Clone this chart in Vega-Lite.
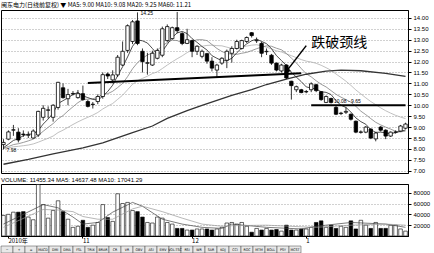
{
"$schema":"https://vega.github.io/schema/vega-lite/v6.json",
"padding":{"left":0,"top":1,"right":0,"bottom":0},
"background":"white",
"spacing":1,
"config":{"font":"Liberation Sans","view":{"stroke":"black","strokeWidth":1},"axis":{"labelFont":"Liberation Sans","labelFontSize":6,"labelColor":"black","tickColor":"black","domainColor":"black"}},
"resolve":{"scale":{"x":"independent","y":"independent"}},
"datasets":{
"k":[
{"d":"2010-10-08","o":8.20,"h":8.45,"l":7.98,"c":8.30,"v":38000,"m5":8.06,"m10":8.03,"m20":8.02},
{"d":"2010-10-11","o":8.45,"h":8.85,"l":8.40,"c":8.78,"v":40000,"m5":8.22,"m10":8.11,"m20":8.05},
{"d":"2010-10-12","o":8.86,"h":9.10,"l":8.60,"c":8.88,"v":44000,"m5":8.39,"m10":8.20,"m20":8.10},
{"d":"2010-10-13","o":8.77,"h":8.95,"l":8.30,"c":8.41,"v":44000,"m5":8.47,"m10":8.24,"m20":8.12},
{"d":"2010-10-14","o":8.68,"h":8.85,"l":8.55,"c":8.66,"v":45000,"m5":8.61,"m10":8.30,"m20":8.15},
{"d":"2010-10-15","o":8.63,"h":8.80,"l":8.50,"c":8.65,"v":35000,"m5":8.68,"m10":8.37,"m20":8.18},
{"d":"2010-10-18","o":8.50,"h":8.90,"l":8.48,"c":8.82,"v":30000,"m5":8.68,"m10":8.45,"m20":8.23},
{"d":"2010-10-19","o":8.64,"h":9.75,"l":8.55,"c":9.72,"v":95000,"m5":8.85,"m10":8.62,"m20":8.31},
{"d":"2010-10-20","o":9.45,"h":10.00,"l":9.30,"c":9.86,"v":58000,"m5":9.14,"m10":8.81,"m20":8.40},
{"d":"2010-10-21","o":9.77,"h":9.95,"l":9.40,"c":9.79,"v":33000,"m5":9.37,"m10":8.99,"m20":8.49},
{"d":"2010-10-22","o":9.45,"h":10.05,"l":9.25,"c":10.00,"v":47000,"m5":9.64,"m10":9.16,"m20":8.59},
{"d":"2010-10-25","o":9.90,"h":11.07,"l":9.80,"c":11.05,"v":65000,"m5":10.08,"m10":9.38,"m20":8.75},
{"d":"2010-10-26","o":10.80,"h":11.00,"l":10.30,"c":10.35,"v":45000,"m5":10.21,"m10":9.53,"m20":8.86},
{"d":"2010-10-27","o":10.30,"h":10.75,"l":10.00,"c":10.49,"v":31000,"m5":10.34,"m10":9.74,"m20":8.99},
{"d":"2010-10-28","o":10.52,"h":10.65,"l":10.45,"c":10.54,"v":16000,"m5":10.49,"m10":9.93,"m20":9.12},
{"d":"2010-10-29","o":10.35,"h":10.70,"l":10.30,"c":10.53,"v":18000,"m5":10.59,"m10":10.12,"m20":9.24},
{"d":"2010-11-01","o":10.53,"h":10.90,"l":10.20,"c":10.26,"v":29000,"m5":10.43,"m10":10.26,"m20":9.35},
{"d":"2010-11-02","o":10.17,"h":10.25,"l":9.90,"c":9.95,"v":16000,"m5":10.35,"m10":10.28,"m20":9.45},
{"d":"2010-11-03","o":10.03,"h":10.15,"l":9.85,"c":10.05,"v":20000,"m5":10.27,"m10":10.30,"m20":9.55},
{"d":"2010-11-04","o":10.17,"h":10.50,"l":10.05,"c":10.40,"v":25000,"m5":10.24,"m10":10.36,"m20":9.67},
{"d":"2010-11-05","o":10.40,"h":11.50,"l":10.30,"c":11.40,"v":58000,"m5":10.41,"m10":10.50,"m20":9.83},
{"d":"2010-11-08","o":11.43,"h":11.50,"l":11.20,"c":11.34,"v":34000,"m5":10.63,"m10":10.53,"m20":9.96},
{"d":"2010-11-09","o":11.16,"h":11.60,"l":11.00,"c":11.39,"v":27000,"m5":10.92,"m10":10.64,"m20":10.08},
{"d":"2010-11-10","o":11.39,"h":12.30,"l":11.30,"c":12.20,"v":78000,"m5":11.35,"m10":10.81,"m20":10.27},
{"d":"2010-11-11","o":11.84,"h":12.92,"l":11.80,"c":12.47,"v":60000,"m5":11.76,"m10":11.00,"m20":10.46},
{"d":"2010-11-12","o":12.51,"h":13.70,"l":12.40,"c":13.64,"v":62000,"m5":12.21,"m10":11.31,"m20":10.71},
{"d":"2010-11-15","o":12.92,"h":13.90,"l":12.80,"c":13.82,"v":47000,"m5":12.70,"m10":11.67,"m20":10.96},
{"d":"2010-11-16","o":13.86,"h":14.25,"l":12.75,"c":12.83,"v":45000,"m5":12.99,"m10":11.95,"m20":11.12},
{"d":"2010-11-17","o":12.47,"h":12.60,"l":11.50,"c":12.00,"v":35000,"m5":12.95,"m10":12.15,"m20":11.23},
{"d":"2010-11-18","o":11.92,"h":12.40,"l":11.40,"c":11.95,"v":25000,"m5":12.85,"m10":12.30,"m20":11.33},
{"d":"2010-11-19","o":11.84,"h":12.50,"l":11.80,"c":12.38,"v":24000,"m5":12.60,"m10":12.40,"m20":11.45},
{"d":"2010-11-22","o":12.15,"h":12.60,"l":12.10,"c":12.51,"v":35000,"m5":12.33,"m10":12.52,"m20":11.53},
{"d":"2010-11-23","o":12.29,"h":13.60,"l":12.20,"c":13.50,"v":33000,"m5":12.47,"m10":12.73,"m20":11.68},
{"d":"2010-11-24","o":12.96,"h":13.70,"l":12.90,"c":13.60,"v":25000,"m5":12.79,"m10":12.87,"m20":11.84},
{"d":"2010-11-25","o":13.05,"h":13.60,"l":13.00,"c":13.55,"v":22000,"m5":13.11,"m10":12.98,"m20":11.99},
{"d":"2010-11-26","o":13.55,"h":14.27,"l":13.30,"c":13.41,"v":14000,"m5":13.31,"m10":12.96,"m20":12.13},
{"d":"2010-11-29","o":13.28,"h":13.35,"l":12.75,"c":12.83,"v":14000,"m5":13.38,"m10":12.86,"m20":12.26},
{"d":"2010-11-30","o":12.83,"h":13.50,"l":12.80,"c":13.00,"v":11000,"m5":13.28,"m10":12.87,"m20":12.41},
{"d":"2010-12-01","o":12.96,"h":13.00,"l":12.20,"c":12.47,"v":11000,"m5":13.05,"m10":12.92,"m20":12.53},
{"d":"2010-12-02","o":12.47,"h":12.75,"l":12.30,"c":12.70,"v":13000,"m5":12.88,"m10":13.00,"m20":12.65},
{"d":"2010-12-03","o":12.24,"h":12.55,"l":12.15,"c":12.47,"v":13000,"m5":12.69,"m10":13.00,"m20":12.70},
{"d":"2010-12-06","o":12.36,"h":12.40,"l":11.90,"c":12.02,"v":13000,"m5":12.53,"m10":12.96,"m20":12.74},
{"d":"2010-12-07","o":12.02,"h":12.20,"l":11.55,"c":11.70,"v":11000,"m5":12.27,"m10":12.78,"m20":12.75},
{"d":"2010-12-08","o":11.61,"h":11.90,"l":11.25,"c":11.84,"v":13000,"m5":12.15,"m10":12.60,"m20":12.73},
{"d":"2010-12-09","o":11.93,"h":12.20,"l":11.85,"c":12.15,"v":16000,"m5":12.04,"m10":12.46,"m20":12.72},
{"d":"2010-12-10","o":12.06,"h":12.55,"l":11.70,"c":12.47,"v":24000,"m5":12.04,"m10":12.37,"m20":12.66},
{"d":"2010-12-13","o":12.38,"h":12.70,"l":11.95,"c":12.60,"v":25000,"m5":12.15,"m10":12.34,"m20":12.60},
{"d":"2010-12-14","o":12.60,"h":13.00,"l":12.55,"c":12.92,"v":22000,"m5":12.40,"m10":12.33,"m20":12.60},
{"d":"2010-12-15","o":12.60,"h":13.00,"l":12.55,"c":12.96,"v":25000,"m5":12.62,"m10":12.38,"m20":12.65},
{"d":"2010-12-16","o":12.92,"h":13.15,"l":12.85,"c":13.10,"v":18000,"m5":12.81,"m10":12.42,"m20":12.71},
{"d":"2010-12-17","o":13.32,"h":13.35,"l":13.10,"c":13.19,"v":7000,"m5":12.95,"m10":12.50,"m20":12.75},
{"d":"2010-12-20","o":12.95,"h":13.10,"l":12.85,"c":12.97,"v":14000,"m5":13.03,"m10":12.59,"m20":12.77},
{"d":"2010-12-21","o":12.83,"h":12.90,"l":12.20,"c":12.38,"v":11000,"m5":12.92,"m10":12.66,"m20":12.72},
{"d":"2010-12-22","o":12.45,"h":12.60,"l":12.30,"c":12.47,"v":14000,"m5":12.82,"m10":12.72,"m20":12.66},
{"d":"2010-12-23","o":12.29,"h":12.35,"l":11.85,"c":11.93,"v":11000,"m5":12.59,"m10":12.70,"m20":12.58},
{"d":"2010-12-24","o":11.93,"h":11.95,"l":11.55,"c":11.61,"v":12000,"m5":12.27,"m10":12.61,"m20":12.49},
{"d":"2010-12-27","o":11.57,"h":11.90,"l":11.50,"c":11.84,"v":9000,"m5":12.05,"m10":12.54,"m20":12.44},
{"d":"2010-12-28","o":11.84,"h":11.88,"l":11.20,"c":11.25,"v":20000,"m5":11.82,"m10":12.37,"m20":12.35},
{"d":"2010-12-29","o":11.10,"h":11.12,"l":10.26,"c":10.90,"v":11000,"m5":11.51,"m10":12.16,"m20":12.27},
{"d":"2010-12-30","o":10.71,"h":10.90,"l":10.60,"c":10.85,"v":11000,"m5":11.29,"m10":11.94,"m20":12.18},
{"d":"2010-12-31","o":10.71,"h":10.75,"l":10.55,"c":10.58,"v":13000,"m5":11.08,"m10":11.68,"m20":12.09},
{"d":"2011-01-04","o":10.61,"h":10.70,"l":10.55,"c":10.63,"v":13000,"m5":10.84,"m10":11.44,"m20":12.02},
{"d":"2011-01-05","o":10.71,"h":11.05,"l":10.60,"c":10.98,"v":16000,"m5":10.79,"m10":11.30,"m20":11.98},
{"d":"2011-01-06","o":10.94,"h":10.98,"l":10.60,"c":10.67,"v":25000,"m5":10.74,"m10":11.12,"m20":11.92},
{"d":"2011-01-07","o":10.62,"h":10.65,"l":10.20,"c":10.26,"v":28000,"m5":10.62,"m10":10.96,"m20":11.83},
{"d":"2011-01-10","o":10.13,"h":10.45,"l":10.10,"c":10.40,"v":16000,"m5":10.59,"m10":10.84,"m20":11.72},
{"d":"2011-01-11","o":10.31,"h":10.35,"l":10.08,"c":10.13,"v":20000,"m5":10.49,"m10":10.67,"m20":11.60},
{"d":"2011-01-12","o":9.90,"h":10.00,"l":9.55,"c":9.59,"v":14000,"m5":10.21,"m10":10.50,"m20":11.43},
{"d":"2011-01-13","o":9.62,"h":9.70,"l":9.55,"c":9.64,"v":18000,"m5":10.00,"m10":10.37,"m20":11.27},
{"d":"2011-01-14","o":9.68,"h":9.90,"l":9.60,"c":9.72,"v":16000,"m5":9.90,"m10":10.26,"m20":11.10},
{"d":"2011-01-17","o":9.59,"h":9.62,"l":9.30,"c":9.36,"v":28000,"m5":9.69,"m10":10.14,"m20":10.91},
{"d":"2011-01-18","o":9.27,"h":9.30,"l":8.72,"c":8.77,"v":13000,"m5":9.42,"m10":9.95,"m20":10.70},
{"d":"2011-01-19","o":8.76,"h":8.85,"l":8.70,"c":8.78,"v":29000,"m5":9.25,"m10":9.73,"m20":10.52},
{"d":"2011-01-20","o":8.77,"h":9.05,"l":8.72,"c":9.00,"v":20000,"m5":9.13,"m10":9.57,"m20":10.34},
{"d":"2011-01-21","o":8.91,"h":8.95,"l":8.45,"c":8.50,"v":14000,"m5":8.88,"m10":9.39,"m20":10.17},
{"d":"2011-01-24","o":8.46,"h":8.78,"l":8.35,"c":8.73,"v":25000,"m5":8.76,"m10":9.22,"m20":10.03},
{"d":"2011-01-25","o":9.00,"h":9.05,"l":8.80,"c":8.86,"v":14000,"m5":8.77,"m10":9.10,"m20":9.88},
{"d":"2011-01-26","o":8.86,"h":8.90,"l":8.45,"c":8.59,"v":14000,"m5":8.74,"m10":9.00,"m20":9.75},
{"d":"2011-01-27","o":8.59,"h":8.80,"l":8.55,"c":8.77,"v":20000,"m5":8.69,"m10":8.91,"m20":9.64},
{"d":"2011-01-28","o":8.76,"h":8.85,"l":8.70,"c":8.78,"v":20000,"m5":8.75,"m10":8.81,"m20":9.54},
{"d":"2011-01-31","o":8.82,"h":9.10,"l":8.80,"c":9.05,"v":13000,"m5":8.81,"m10":8.78,"m20":9.46},
{"d":"2011-02-01","o":8.95,"h":9.20,"l":8.90,"c":9.14,"v":9000,"m5":8.87,"m10":8.82,"m20":9.39}
],
"ma60":[
{"d":"2010-10-08","v":7.30},{"d":"2010-10-15","v":7.52},{"d":"2010-10-22","v":7.78},{"d":"2010-11-01","v":8.05},
{"d":"2010-11-05","v":8.28},{"d":"2010-11-15","v":8.75},{"d":"2010-11-19","v":9.05},{"d":"2010-11-24","v":9.40},
{"d":"2010-11-30","v":9.75},{"d":"2010-12-03","v":10.00},{"d":"2010-12-13","v":10.45},{"d":"2010-12-17","v":10.72},
{"d":"2010-12-22","v":10.95},{"d":"2010-12-28","v":11.20},{"d":"2011-01-04","v":11.42},{"d":"2011-01-10","v":11.56},
{"d":"2011-01-13","v":11.61},{"d":"2011-01-19","v":11.58},{"d":"2011-01-26","v":11.46},{"d":"2011-02-01","v":11.32}
],
"vma":[
{"d":"2010-10-08","a5":22000,"a10":16000},{"d":"2010-10-20","a5":58000,"a10":49000},{"d":"2010-10-25","a5":52000,"a10":48000},
{"d":"2010-10-28","a5":35000,"a10":45000},{"d":"2010-11-01","a5":22000,"a10":36000},{"d":"2010-11-04","a5":25000,"a10":31000},
{"d":"2010-11-09","a5":44000,"a10":31000},{"d":"2010-11-15","a5":62000,"a10":50000},{"d":"2010-11-17","a5":55000,"a10":55000},
{"d":"2010-11-23","a5":31000,"a10":45000},{"d":"2010-11-29","a5":22000,"a10":33000},{"d":"2010-12-03","a5":16000,"a10":22000},
{"d":"2010-12-09","a5":14000,"a10":18000},{"d":"2010-12-13","a5":22000,"a10":19000},{"d":"2010-12-22","a5":16000,"a10":20000},
{"d":"2010-12-31","a5":13000,"a10":17000},{"d":"2011-01-06","a5":18000,"a10":16000},{"d":"2011-01-17","a5":25000,"a10":20000},
{"d":"2011-01-26","a5":22000,"a10":22000},{"d":"2011-02-01","a5":16000,"a10":20000}
],
"tabs":[{"t":"−"},{"t":"+"},{"t":"="},{"t":"MACD"},{"t":"DMI"},{"t":"DMA"},{"t":"FSL"},{"t":"TRIX"},{"t":"BRAR"},{"t":"CR"},{"t":"VR"},{"t":"OBV"},{"t":"ASI"},{"t":"EMV"},{"t":"VOL-TSC"},{"t":"RSI"},{"t":"WR"},{"t":"SAR"},{"t":"KDJ"},{"t":"CCI"},{"t":"ROC"},{"t":"MTM"},{"t":"BOLL"},{"t":"PSY"},{"t":"MCST"}]
},
"vconcat":[
{
"width":407,"height":163,
"title":{"text":"闽东电力(日线前复权) ▼ MA5: 9.00  MA10: 9.08  MA20: 9.25  MA60: 11.21","font":"Noto Sans CJK SC","fontSize":6,"fontWeight":"normal","anchor":"start","offset":2,"color":"black"},
"data":{"name":"k"},
"layer":[
{"mark":{"type":"line","color":"#b0b0b0","strokeWidth":0.8},
 "encoding":{"x":{"field":"d","type":"ordinal","scale":{"paddingInner":0,"paddingOuter":0},"axis":null},
  "y":{"field":"m20","type":"quantitative","scale":{"domain":[6.9,14.36],"nice":false,"zero":false},
   "axis":{"orient":"right","title":null,"values":[7,7.5,8,8.5,9,9.5,10,10.5,11,11.5,12,12.5,13,13.5,14],"format":".2f","grid":true,"gridDash":[1,2],"gridColor":"#666","gridWidth":0.6,"tickSize":3,"labelPadding":2}}}},
{"mark":{"type":"line","color":"#808080","strokeWidth":0.8},
 "encoding":{"x":{"field":"d","type":"ordinal","axis":null},"y":{"field":"m10","type":"quantitative","scale":{"domain":[6.9,14.36],"nice":false,"zero":false},"axis":{"orient":"right","title":null,"values":[7,7.5,8,8.5,9,9.5,10,10.5,11,11.5,12,12.5,13,13.5,14],"format":".2f","grid":true,"gridDash":[1,2],"gridColor":"#666","gridWidth":0.6,"tickSize":3,"labelPadding":2}}}},
{"mark":{"type":"line","color":"#222222","strokeWidth":0.8},
 "encoding":{"x":{"field":"d","type":"ordinal","axis":null},"y":{"field":"m5","type":"quantitative","scale":{"domain":[6.9,14.36],"nice":false,"zero":false},"axis":{"orient":"right","title":null,"values":[7,7.5,8,8.5,9,9.5,10,10.5,11,11.5,12,12.5,13,13.5,14],"format":".2f","grid":true,"gridDash":[1,2],"gridColor":"#666","gridWidth":0.6,"tickSize":3,"labelPadding":2}}}},
{"data":{"name":"ma60"},"mark":{"type":"line","color":"#333333","strokeWidth":1.3},
 "encoding":{"x":{"field":"d","type":"ordinal","axis":null},"y":{"field":"v","type":"quantitative","scale":{"domain":[6.9,14.36],"nice":false,"zero":false},"axis":{"orient":"right","title":null,"values":[7,7.5,8,8.5,9,9.5,10,10.5,11,11.5,12,12.5,13,13.5,14],"format":".2f","grid":true,"gridDash":[1,2],"gridColor":"#666","gridWidth":0.6,"tickSize":3,"labelPadding":2}}}},
{"data":{"values":[{"d1":"2010-11-02","p1":11.02,"d2":"2010-12-31","p2":11.47},{"d1":"2011-01-05","p1":10.0,"d2":"2011-02-01","p2":10.0}]},
 "mark":{"type":"rule","color":"black","strokeWidth":2},
 "encoding":{"x":{"field":"d1","type":"ordinal","axis":null},"x2":{"field":"d2"},"y":{"field":"p1","type":"quantitative","scale":{"domain":[6.9,14.36],"nice":false,"zero":false},"axis":{"orient":"right","title":null,"values":[7,7.5,8,8.5,9,9.5,10,10.5,11,11.5,12,12.5,13,13.5,14],"format":".2f","grid":true,"gridDash":[1,2],"gridColor":"#666","gridWidth":0.6,"tickSize":3,"labelPadding":2}},"y2":{"field":"p2"}}},
{"mark":{"type":"rule","color":"black","strokeWidth":0.8},
 "encoding":{"x":{"field":"d","type":"ordinal","axis":null},"y":{"field":"l","type":"quantitative","scale":{"domain":[6.9,14.36],"nice":false,"zero":false},"axis":{"orient":"right","title":null,"values":[7,7.5,8,8.5,9,9.5,10,10.5,11,11.5,12,12.5,13,13.5,14],"format":".2f","grid":true,"gridDash":[1,2],"gridColor":"#666","gridWidth":0.6,"tickSize":3,"labelPadding":2}},"y2":{"field":"h"}}},
{"mark":{"type":"bar","size":3.4,"stroke":"black","strokeWidth":0.8},
 "encoding":{"x":{"field":"d","type":"ordinal","axis":null},"y":{"field":"o","type":"quantitative","scale":{"domain":[6.9,14.36],"nice":false,"zero":false},"axis":{"orient":"right","title":null,"values":[7,7.5,8,8.5,9,9.5,10,10.5,11,11.5,12,12.5,13,13.5,14],"format":".2f","grid":true,"gridDash":[1,2],"gridColor":"#666","gridWidth":0.6,"tickSize":3,"labelPadding":2}},"y2":{"field":"c"},
  "fill":{"condition":{"test":"datum.c >= datum.o","value":"white"},"value":"black"}}},
{"data":{"values":[{"d1":"2011-01-04","p1":12.73,"d2":"2010-12-28","p2":11.55}]},
 "mark":{"type":"rule","color":"black","strokeWidth":1.5},
 "encoding":{"x":{"field":"d1","type":"ordinal","axis":null},"x2":{"field":"d2"},"y":{"field":"p1","type":"quantitative","scale":{"domain":[6.9,14.36],"nice":false,"zero":false},"axis":{"orient":"right","title":null,"values":[7,7.5,8,8.5,9,9.5,10,10.5,11,11.5,12,12.5,13,13.5,14],"format":".2f","grid":true,"gridDash":[1,2],"gridColor":"#666","gridWidth":0.6,"tickSize":3,"labelPadding":2}},"y2":{"field":"p2"}}},
{"data":{"values":[{"d":"2010-12-28","p":11.55}]},
 "mark":{"type":"point","shape":"triangle-up","filled":true,"color":"black","opacity":1,"size":45,"angle":217},
 "encoding":{"x":{"field":"d","type":"ordinal","axis":null},"y":{"field":"p","type":"quantitative","scale":{"domain":[6.9,14.36],"nice":false,"zero":false},"axis":{"orient":"right","title":null,"values":[7,7.5,8,8.5,9,9.5,10,10.5,11,11.5,12,12.5,13,13.5,14],"format":".2f","grid":true,"gridDash":[1,2],"gridColor":"#666","gridWidth":0.6,"tickSize":3,"labelPadding":2}}}},
{"data":{"values":[{"d":"2011-01-05","p":12.83,"t":"跌破颈线"}]},
 "mark":{"type":"text","align":"left","baseline":"middle","font":"Noto Sans CJK SC","fontSize":14,"color":"black"},
 "encoding":{"x":{"field":"d","type":"ordinal","axis":null},"y":{"field":"p","type":"quantitative","scale":{"domain":[6.9,14.36],"nice":false,"zero":false},"axis":{"orient":"right","title":null,"values":[7,7.5,8,8.5,9,9.5,10,10.5,11,11.5,12,12.5,13,13.5,14],"format":".2f","grid":true,"gridDash":[1,2],"gridColor":"#666","gridWidth":0.6,"tickSize":3,"labelPadding":2}},"text":{"field":"t"}}},
{"data":{"values":[{"d":"2010-11-16","p":14.20,"t":"14.25"},{"d":"2010-10-08","p":7.93,"t":"7.98"},{"d":"2011-01-11","p":10.20,"t":"10.08 - 9.65"}]},
 "mark":{"type":"text","align":"left","baseline":"middle","dx":3,"fontSize":5,"color":"black"},
 "encoding":{"x":{"field":"d","type":"ordinal","axis":null},"y":{"field":"p","type":"quantitative","scale":{"domain":[6.9,14.36],"nice":false,"zero":false},"axis":{"orient":"right","title":null,"values":[7,7.5,8,8.5,9,9.5,10,10.5,11,11.5,12,12.5,13,13.5,14],"format":".2f","grid":true,"gridDash":[1,2],"gridColor":"#666","gridWidth":0.6,"tickSize":3,"labelPadding":2}},"text":{"field":"t"}}}
]
},
{
"width":407,"height":52,
"title":{"text":"VOLUME: 11455.34  MA5: 14637.48  MA10: 17041.29","font":"Liberation Sans","fontSize":6,"fontWeight":"normal","anchor":"start","offset":1,"color":"black"},
"data":{"name":"k"},
"layer":[
{"mark":{"type":"bar","size":3.6,"stroke":"black","strokeWidth":0.6,"clip":true},
 "encoding":{"x":{"field":"d","type":"ordinal","scale":{"paddingInner":0,"paddingOuter":0},
   "axis":{"orient":"bottom","title":null,"values":["2010-10-11","2010-11-01","2010-12-01","2011-01-04"],"labelExpr":"datum.value == '2010-11-01' ? '11' : datum.value == '2010-12-01' ? '12' : datum.value == '2011-01-04' ? '1' : '2010年'","labelAlign":"left","labelAngle":0,"labelOverlap":false,"labelBound":false,"labelFont":"Noto Sans CJK SC","labelFontSize":6,"tickSize":2,"labelPadding":-1}},
  "y":{"field":"v","type":"quantitative","scale":{"domain":[0,96000],"nice":false},
   "axis":{"orient":"right","title":null,"values":[20000,40000,60000,80000],"format":"d","grid":true,"gridDash":[1,2],"gridColor":"#666","gridWidth":0.6,"tickSize":3,"labelPadding":2}},
  "fill":{"condition":{"test":"datum.c >= datum.o","value":"white"},"value":"black"}}},
{"data":{"name":"vma"},"mark":{"type":"line","color":"#444444","strokeWidth":0.7},
 "encoding":{"x":{"field":"d","type":"ordinal","axis":{"orient":"bottom","title":null,"values":["2010-10-11","2010-11-01","2010-12-01","2011-01-04"],"labelExpr":"datum.value == '2010-11-01' ? '11' : datum.value == '2010-12-01' ? '12' : datum.value == '2011-01-04' ? '1' : '2010年'","labelAlign":"left","labelAngle":0,"labelOverlap":false,"labelBound":false,"labelFont":"Noto Sans CJK SC","labelFontSize":6,"tickSize":2,"labelPadding":-1}},
  "y":{"field":"a5","type":"quantitative","scale":{"domain":[0,96000],"nice":false},"axis":{"orient":"right","title":null,"values":[20000,40000,60000,80000],"format":"d","grid":true,"gridDash":[1,2],"gridColor":"#666","gridWidth":0.6,"tickSize":3,"labelPadding":2}}}},
{"data":{"name":"vma"},"mark":{"type":"line","color":"#999999","strokeWidth":0.7},
 "encoding":{"x":{"field":"d","type":"ordinal","axis":{"orient":"bottom","title":null,"values":["2010-10-11","2010-11-01","2010-12-01","2011-01-04"],"labelExpr":"datum.value == '2010-11-01' ? '11' : datum.value == '2010-12-01' ? '12' : datum.value == '2011-01-04' ? '1' : '2010年'","labelAlign":"left","labelAngle":0,"labelOverlap":false,"labelBound":false,"labelFont":"Noto Sans CJK SC","labelFontSize":6,"tickSize":2,"labelPadding":-1}},
  "y":{"field":"a10","type":"quantitative","scale":{"domain":[0,96000],"nice":false},"axis":{"orient":"right","title":null,"values":[20000,40000,60000,80000],"format":"d","grid":true,"gridDash":[1,2],"gridColor":"#666","gridWidth":0.6,"tickSize":3,"labelPadding":2}}}}
]
},
{
"width":300,"height":7,
"view":{"stroke":null},
"data":{"name":"tabs"},
"encoding":{"x":{"field":"t","type":"nominal","sort":null,"axis":null,"scale":{"paddingInner":0,"paddingOuter":0}}},
"layer":[
{"mark":{"type":"bar","fill":"#e8e8e8","stroke":"#444444","strokeWidth":0.5}},
{"mark":{"type":"text","font":"DejaVu Sans Condensed","fontSize":3.6,"color":"black"},"encoding":{"text":{"field":"t"}}}
]
}
]
}
